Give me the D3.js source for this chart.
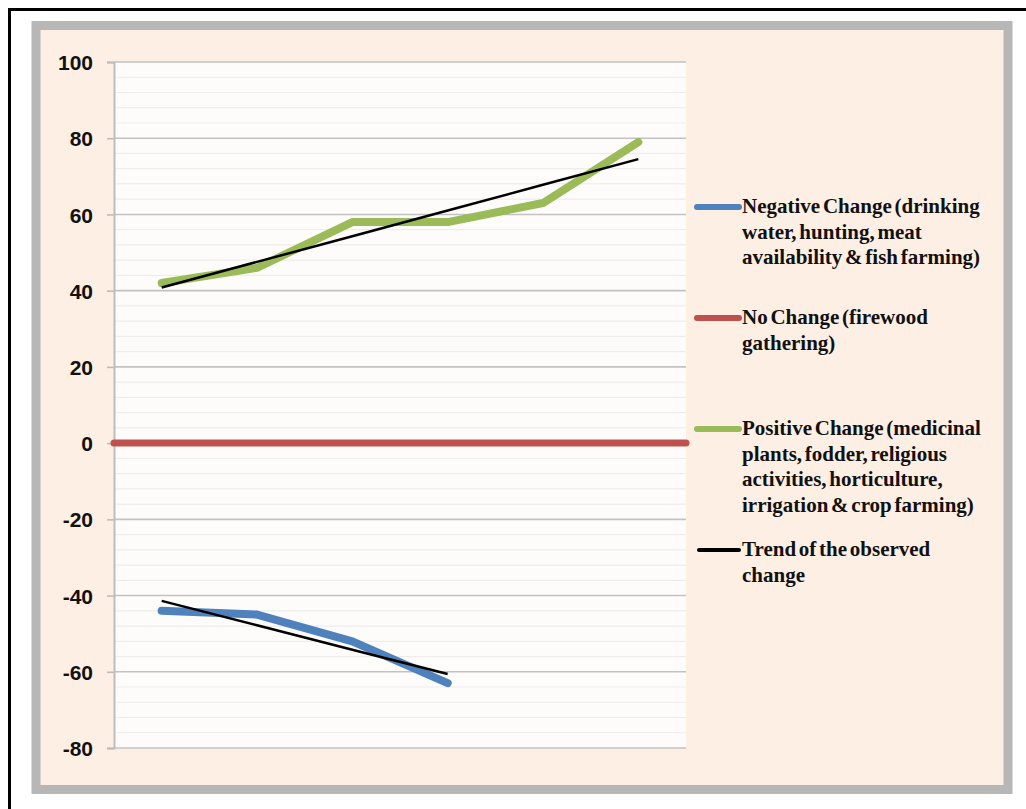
<!DOCTYPE html>
<html>
<head>
<meta charset="utf-8">
<script src="https://cdn.jsdelivr.net/npm/d3@7"></script>
<style>
  body { margin: 0; background: #fff; }
  svg { display: block; }
</style>
</head>
<body>
<div id="chart"></div>
<script>
// data
const categories = [1, 2, 3, 4, 5, 6];
const negativeChange = [-44, -45, -52, -63];
const noChange = [0, 0, 0, 0, 0, 0, 0];
const positiveChange = [42, 46, 58, 58, 63, 79];
const yTicks = [-80, -60, -40, -20, 0, 20, 40, 60, 80, 100];

const legendItems = [
    {color: "#4F81BD", lines: ["Negative Change (drinking", "water, hunting, meat", "availability & fish farming)"], y: 207},
    {color: "#C0504D", lines: ["No Change (firewood", "gathering)"], y: 318},
    {color: "#9BBB59", lines: ["Positive Change (medicinal", "plants, fodder, religious", "activities, horticulture,", "irrigation & crop  farming)"], y: 429},
    {color: "#000000", lines: ["Trend of the observed", "change"], y: 550, short: true}
];

const width = 1026, height = 809;
const plot = {left: 114, right: 686, top: 62, bottom: 748};

const svg = d3.select("#chart").append("svg")
    .attr("width", width)
    .attr("height", height);

// outer black frame and grey-bordered peach panel
svg.append("rect").attr("x", 9.5).attr("y", 9.5)
    .attr("width", width + 10).attr("height", height + 10)
    .attr("fill", "#fff").attr("stroke", "#000").attr("stroke-width", 3);
svg.append("rect").attr("x", 36).attr("y", 25.5)
    .attr("width", 972).attr("height", 764)
    .attr("fill", "#FDEFE4").attr("stroke", "#B7B7B7").attr("stroke-width", 9);

// x: band centres for the categories, edges for the flat line
const xEdge = d3.scaleLinear().domain([0, categories.length]).range([plot.left, plot.right]);
const x = i => xEdge(i + 0.5);
const y = d3.scaleLinear().domain([-80, 100]).range([plot.bottom, plot.top]);

svg.append("rect")
    .attr("x", plot.left).attr("y", plot.top)
    .attr("width", plot.right - plot.left).attr("height", plot.bottom - plot.top)
    .attr("fill", "#FEFCFA");

// minor grid
svg.append("g").selectAll("line")
    .data(d3.range(-80, 100, 4).filter(v => v % 20 !== 0))
    .join("line")
    .attr("x1", plot.left).attr("x2", plot.right)
    .attr("y1", d => y(d)).attr("y2", d => y(d))
    .attr("stroke", "#EEEDEB").attr("stroke-width", 1.2);

// major grid
svg.append("g").selectAll("line")
    .data(yTicks)
    .join("line")
    .attr("x1", plot.left).attr("x2", plot.right)
    .attr("y1", d => y(d)).attr("y2", d => y(d))
    .attr("stroke", "#C2C2C2").attr("stroke-width", 1.6);

// y axis
const yAxis = svg.append("g")
    .attr("transform", `translate(${plot.left},0)`)
    .call(d3.axisLeft(y).tickValues(yTicks).tickSize(7).tickPadding(14).tickFormat(d => String(d)));
yAxis.attr("font-size", null).attr("font-family", null);
yAxis.select(".domain").attr("stroke", "#BDBDBD").attr("stroke-width", 2);
yAxis.selectAll(".tick line").attr("stroke", "#BDBDBD").attr("stroke-width", 1.6);
yAxis.selectAll("text")
    .attr("fill", "#111")
    .attr("dy", "0.36em")
    .style("font-family", "'Liberation Sans', Arial, sans-serif")
    .style("font-weight", "bold")
    .style("font-size", "21px");

// least squares trend through a series
function trend(values) {
    const xs = values.map((d, i) => i);
    const mx = d3.mean(xs), my = d3.mean(values);
    const slope = d3.sum(xs, (xi, i) => (xi - mx) * (values[i] - my)) / d3.sum(xs, xi => (xi - mx) ** 2);
    return values.map((d, i) => my + slope * (i - mx));
}

const line = d3.line().x((d, i) => x(i)).y(d => y(d));
const edgeLine = d3.line().x((d, i) => xEdge(i)).y(d => y(d));

svg.append("path").attr("d", edgeLine(noChange))
    .attr("fill", "none").attr("stroke", "#C0504D").attr("stroke-width", 7)
    .attr("stroke-linecap", "round");

[[positiveChange, "#9BBB59"], [negativeChange, "#4F81BD"]].forEach(([vals, color]) => {
    svg.append("path").attr("d", line(vals))
        .attr("fill", "none").attr("stroke", color).attr("stroke-width", 8)
        .attr("stroke-linecap", "round").attr("stroke-linejoin", "round");
});

[positiveChange, negativeChange].forEach(vals => {
    svg.append("path").attr("d", line(trend(vals)))
        .attr("fill", "none").attr("stroke", "#000").attr("stroke-width", 2.5);
});

// legend
const legend = svg.append("g");
legendItems.forEach(item => {
    legend.append("line")
        .attr("x1", item.short ? 699 : 697).attr("x2", 739)
        .attr("y1", item.y).attr("y2", item.y)
        .attr("stroke", item.color).attr("stroke-width", item.short ? 4 : 6)
        .attr("stroke-linecap", "round");
    const t = legend.append("text")
        .attr("x", 742).attr("y", item.y + 6)
        .attr("fill", "#111")
        .style("font-family", "'Liberation Serif', 'Times New Roman', serif")
        .style("font-weight", "bold")
        .style("font-size", "21px")
        .style("word-spacing", "-2.5px");
    item.lines.forEach((l, i) => {
        t.append("tspan").attr("x", 742).attr("dy", i === 0 ? 0 : 25.5).text(l);
    });
});
</script>
</body>
</html>
